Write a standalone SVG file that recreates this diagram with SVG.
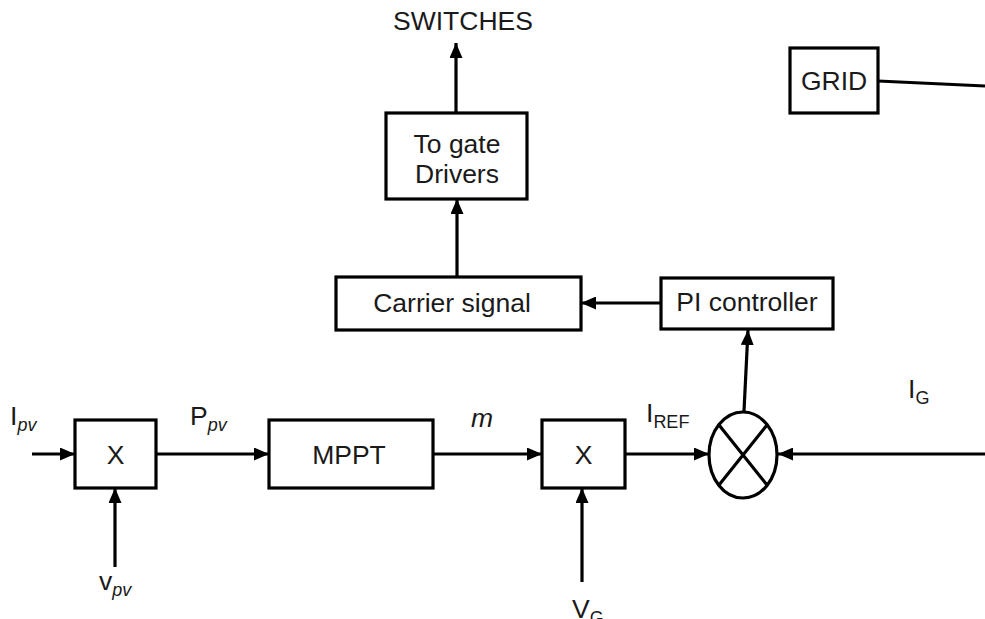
<svg xmlns="http://www.w3.org/2000/svg" width="985" height="619" viewBox="0 0 985 619">
<defs>
<marker id="ah" markerWidth="15" markerHeight="13" refX="15" refY="6.5" orient="auto" markerUnits="userSpaceOnUse">
<path d="M0,0 L15,6.5 L0,13 Z" fill="#000"/>
</marker>
<style>
.box{fill:#fff;stroke:#000;stroke-width:3.2}
.ln{fill:none;stroke:#000;stroke-width:3.2}
.ar{fill:none;stroke:#000;stroke-width:3.2;marker-end:url(#ah)}
.t{font-family:"Liberation Sans",Arial,sans-serif;font-size:26.5px;fill:#1a1a1a}
.s{font-size:18px}
.i{font-style:italic}
</style>
</defs>
<rect width="985" height="619" fill="#fff"/>
<g id="connectors">
<line class="ar" x1="32" y1="454" x2="75" y2="454"/>
<line class="ar" x1="156" y1="454" x2="269" y2="454"/>
<line class="ar" x1="115" y1="567" x2="115" y2="488"/>
<line class="ar" x1="433" y1="454" x2="542" y2="454"/>
<line class="ar" x1="582" y1="582" x2="582" y2="488"/>
<line class="ar" x1="625" y1="454" x2="709" y2="454"/>
<line class="ar" x1="985" y1="454" x2="778" y2="454"/>
<line class="ar" x1="744" y1="411" x2="748" y2="330"/>
<line class="ar" x1="661" y1="303" x2="581" y2="303"/>
<line class="ar" x1="457" y1="277" x2="457" y2="199"/>
<line class="ar" x1="456" y1="113" x2="456" y2="43"/>
<line class="ln" x1="878" y1="81" x2="985" y2="86"/>
</g>
<g id="mult1">
<rect class="box" x="75" y="420" width="81" height="68"/>
<text class="t" x="115.5" y="464" text-anchor="middle">X</text>
</g>
<g id="mppt">
<rect class="box" x="269" y="420" width="164" height="68"/>
<text class="t" x="349" y="464" text-anchor="middle">MPPT</text>
</g>
<g id="mult2">
<rect class="box" x="542" y="420" width="83" height="68"/>
<text class="t" x="583.5" y="464" text-anchor="middle">X</text>
</g>
<g id="sum">
<ellipse cx="743" cy="455" rx="34" ry="43" fill="#fff" stroke="#000" stroke-width="3.2"/>
<line class="ln" x1="719" y1="425" x2="767" y2="485" stroke-width="2.5"/>
<line class="ln" x1="767" y1="425" x2="719" y2="485" stroke-width="2.5"/>
</g>
<g id="pi">
<rect class="box" x="661" y="278" width="172" height="51"/>
<text class="t" x="747" y="311" text-anchor="middle">PI controller</text>
</g>
<g id="carrier">
<rect class="box" x="336" y="277" width="245" height="53"/>
<text class="t" x="452" y="312" text-anchor="middle">Carrier signal</text>
</g>
<g id="gate">
<rect class="box" x="386" y="113" width="141" height="86"/>
<text class="t" x="457" y="153" text-anchor="middle">To gate</text>
<text class="t" x="457" y="183" text-anchor="middle">Drivers</text>
</g>
<g id="grid">
<rect class="box" x="790" y="48" width="88" height="65"/>
<text class="t" x="834" y="90" text-anchor="middle">GRID</text>
</g>
<g id="labels">
<text class="t" x="463" y="30" text-anchor="middle">SWITCHES</text>
<text class="t" x="10" y="425">I<tspan class="s i" dy="6">pv</tspan></text>
<text class="t" x="190" y="425">P<tspan class="s i" dy="6">pv</tspan></text>
<text class="t" x="99" y="590">v<tspan class="s i" dy="6">pv</tspan></text>
<text class="t i" x="471" y="427">m</text>
<text class="t" x="646" y="422">I<tspan class="s" dy="6">REF</tspan></text>
<text class="t" x="572" y="618">V<tspan class="s" dy="6">G</tspan></text>
<text class="t" x="908" y="398">I<tspan class="s" dy="6">G</tspan></text>
</g>
</svg>
